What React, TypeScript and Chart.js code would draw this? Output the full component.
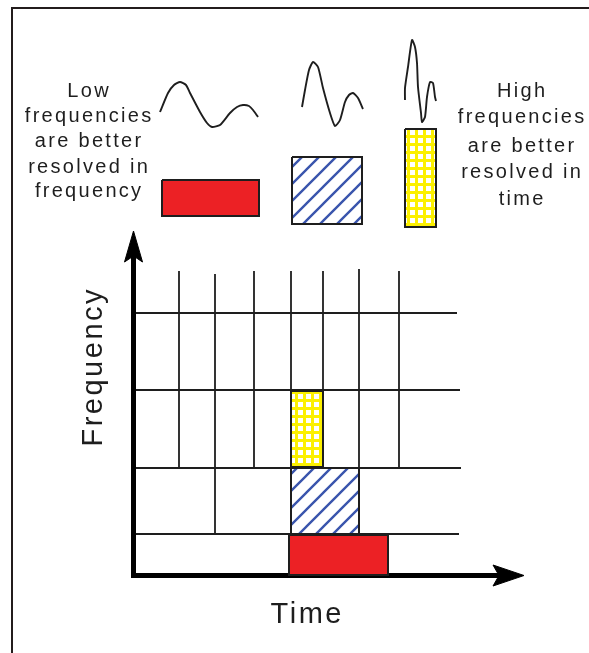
import React, { useEffect, useRef } from "react";
import { Chart, registerables } from "chart.js";

Chart.register(...registerables);

// ---- Diagram data (diagram units: x = time direction, y = downward page units) ----
const frameX = [12, 12, 589];
const frameY = [653, 8, 8];

// horizontal frequency-band boundaries of the tiling
const bandY = [313, 390, 468, 534];
const bandStartX = [133, 133, 133, 133];
const bandEndX = [457, 460, 461, 459];

// vertical time boundaries of the tiling
const cutX = [179, 215, 254, 291, 323, 359, 399];
const cutTopY = [271, 274, 271, 271, 271, 269, 271];
const cutBottomY = [468, 534, 468, 534, 468, 534, 468];

// axes
const axisOriginX = 133.5;
const axisOriginY = 575.5;
const yAxisEnd = 250;
const xAxisEnd = 505;
const yArrowX = [133.5, 142.5, 133.5, 124.5, 133.5];
const yArrowY = [231, 262, 256, 262, 231];
const xArrowX = [524, 493, 499, 493, 524];
const xArrowY = [575.5, 565, 575.5, 586, 575.5];

// highlighted tiles: [x0, x1, y0, y1]
const tileNames = ["gridHigh", "gridMid", "gridLow", "keyLow", "keyMid", "keyHigh"];
const tileX0 = [291, 291, 289, 162, 292, 405];
const tileX1 = [323, 359, 388, 259, 362, 436];
const tileY0 = [391, 468, 535, 180, 157, 129];
const tileY1 = [467, 534, 575, 216, 224, 227];
const tileKind = ["yellow", "blue", "red", "red", "blue", "yellow"];

// wavelets
const lowWaveX = [160, 168, 174, 180, 186, 190, 200, 207, 212, 220, 230, 237, 243, 249, 253, 258];
const lowWaveY = [112, 93, 85, 82, 85, 93, 112, 123, 127, 125, 113, 107, 105, 106, 110, 117];
const midWaveX = [302, 305, 309, 313, 318, 323, 330, 335, 340, 345, 349, 353, 358, 363];
const midWaveY = [107, 90, 70, 62, 67, 88, 113, 126, 120, 102, 95, 93, 98, 109];
const highWaveX = [405, 405, 408, 412, 415, 417, 418, 421, 422, 425, 427, 430, 433, 435, 436];
const highWaveY = [100, 88, 67, 40, 47, 63, 87, 113, 122, 117, 97, 82, 83, 97, 101];

// text
const leftNote = ["Low", "frequencies", "are better", "resolved in", "frequency"];
const leftNoteX = 88;
const leftNoteY = [97, 122, 147, 173, 197];
const rightNote = ["High", "frequencies", "are better", "resolved in", "time"];
const rightNoteX = 521;
const rightNoteY = [97, 123, 152, 178, 205];
const xTitle = "Time";
const xTitlePos = [306, 623];
const yTitle = "Frequency";
const yTitlePos = [102, 368];

const INK = "#1e1e1e";

function zip(xs: number[], ys: number[]) {
  return xs.map((x, i) => ({ x, y: ys[i] }));
}

function makeHatch(): CanvasPattern | string {
  const s = 17;
  const c = document.createElement("canvas");
  c.width = s;
  c.height = s;
  const g = c.getContext("2d");
  if (!g) return "#ffffff";
  g.fillStyle = "#ffffff";
  g.fillRect(0, 0, s, s);
  g.strokeStyle = "#3a55ad";
  g.lineWidth = 2.4;
  g.beginPath();
  for (const k of [-s, 0, s]) {
    g.moveTo(k - 1, s + 1);
    g.lineTo(k + s + 1, -1);
  }
  g.stroke();
  return g.createPattern(c, "repeat") || "#ffffff";
}

function makeCheck(): CanvasPattern | string {
  const s = 8;
  const c = document.createElement("canvas");
  c.width = s;
  c.height = s;
  const g = c.getContext("2d");
  if (!g) return "#ffff00";
  g.fillStyle = "#fcf000";
  g.fillRect(0, 0, s, s);
  g.fillStyle = "#ffffff";
  g.fillRect(2, 2, 5, 5);
  return g.createPattern(c, "repeat") || "#ffff00";
}

export default function App() {
  const ref = useRef<HTMLCanvasElement | null>(null);

  useEffect(() => {
    const canvas = ref.current;
    if (!canvas) return;

    const fills: Record<string, any> = {
      red: "#ec2125",
      blue: makeHatch(),
      yellow: makeCheck(),
    };

    const tileSets = tileNames.map((name, i) => ({
      label: name,
      data: zip(
        [tileX0[i], tileX1[i], tileX1[i], tileX0[i], tileX0[i]],
        [tileY0[i], tileY0[i], tileY1[i], tileY1[i], tileY0[i]]
      ),
      showLine: true,
      fill: "shape",
      backgroundColor: fills[tileKind[i]],
      borderColor: INK,
      borderWidth: 2,
      pointRadius: 0,
      tension: 0,
    }));

    const gridData: any[] = [];
    bandY.forEach((y, i) => {
      gridData.push({ x: bandStartX[i], y }, { x: bandEndX[i], y }, { x: bandEndX[i], y: null });
    });
    cutX.forEach((x, i) => {
      gridData.push({ x, y: cutTopY[i] }, { x, y: cutBottomY[i] }, { x, y: null });
    });

    const waveSet = (label: string, xs: number[], ys: number[]) => ({
      label,
      data: zip(xs, ys),
      showLine: true,
      fill: false,
      borderColor: INK,
      borderWidth: 1.9,
      pointRadius: 0,
      tension: 0.2,
    });

    const arrowSet = (label: string, xs: number[], ys: number[]) => ({
      label,
      data: zip(xs, ys),
      showLine: true,
      fill: "shape",
      backgroundColor: "#000000",
      borderColor: "#000000",
      borderWidth: 1,
      pointRadius: 0,
      tension: 0,
    });

    const textPlugin = {
      id: "diagramText",
      afterDatasetsDraw(chart: any) {
        const { ctx, scales } = chart;
        const px = (v: number) => scales.x.getPixelForValue(v);
        const py = (v: number) => scales.y.getPixelForValue(v);
        ctx.save();
        ctx.fillStyle = INK;
        ctx.textAlign = "center";
        ctx.textBaseline = "alphabetic";
        ctx.font = '20px "Liberation Sans", Arial, sans-serif';
        (ctx as any).letterSpacing = "2.3px";
        leftNote.forEach((t, i) => ctx.fillText(t, px(leftNoteX) + 1.15, py(leftNoteY[i])));
        rightNote.forEach((t, i) => ctx.fillText(t, px(rightNoteX) + 1.15, py(rightNoteY[i])));
        ctx.font = '29px "Liberation Sans", Arial, sans-serif';
        (ctx as any).letterSpacing = "2.5px";
        ctx.fillText(xTitle, px(xTitlePos[0]) + 1.25, py(xTitlePos[1]));
        ctx.translate(px(yTitlePos[0]), py(yTitlePos[1]));
        ctx.rotate(-Math.PI / 2);
        ctx.fillText(yTitle, 1.25, 0);
        ctx.restore();
      },
    };

    const chart = new Chart(canvas, {
      type: "scatter",
      data: {
        datasets: [
          ...tileSets,
          arrowSet("yArrow", yArrowX, yArrowY),
          arrowSet("xArrow", xArrowX, xArrowY),
          {
            label: "axes",
            data: [
              { x: axisOriginX, y: yAxisEnd },
              { x: axisOriginX, y: axisOriginY },
              { x: xAxisEnd, y: axisOriginY },
            ],
            showLine: true,
            fill: false,
            borderColor: "#000000",
            borderWidth: 5,
            borderJoinStyle: "miter",
            pointRadius: 0,
          },
          waveSet("lowWave", lowWaveX, lowWaveY),
          waveSet("midWave", midWaveX, midWaveY),
          waveSet("highWave", highWaveX, highWaveY),
          {
            label: "grid",
            data: gridData,
            showLine: true,
            spanGaps: false,
            fill: false,
            borderColor: INK,
            borderWidth: 1.8,
            pointRadius: 0,
          },
          {
            label: "frame",
            data: zip(frameX, frameY),
            showLine: true,
            fill: false,
            borderColor: "#231c1c",
            borderWidth: 2,
            pointRadius: 0,
          },
        ] as any,
      },
      options: {
        animation: false,
        responsive: false,
        devicePixelRatio: 1,
        layout: { padding: 0 },
        plugins: {
          legend: { display: false },
          tooltip: { enabled: false },
        },
        scales: {
          x: { type: "linear", min: 0, max: 589, display: false },
          y: { type: "linear", min: 0, max: 653, reverse: true, display: false },
        },
      } as any,
      plugins: [textPlugin],
    });

    return () => chart.destroy();
  }, []);

  return (
    <div style={{ position: "absolute", left: 0, top: 0, width: 589, height: 653, background: "#ffffff" }}>
      <canvas ref={ref} width={589} height={653} style={{ display: "block" }} />
    </div>
  );
}
